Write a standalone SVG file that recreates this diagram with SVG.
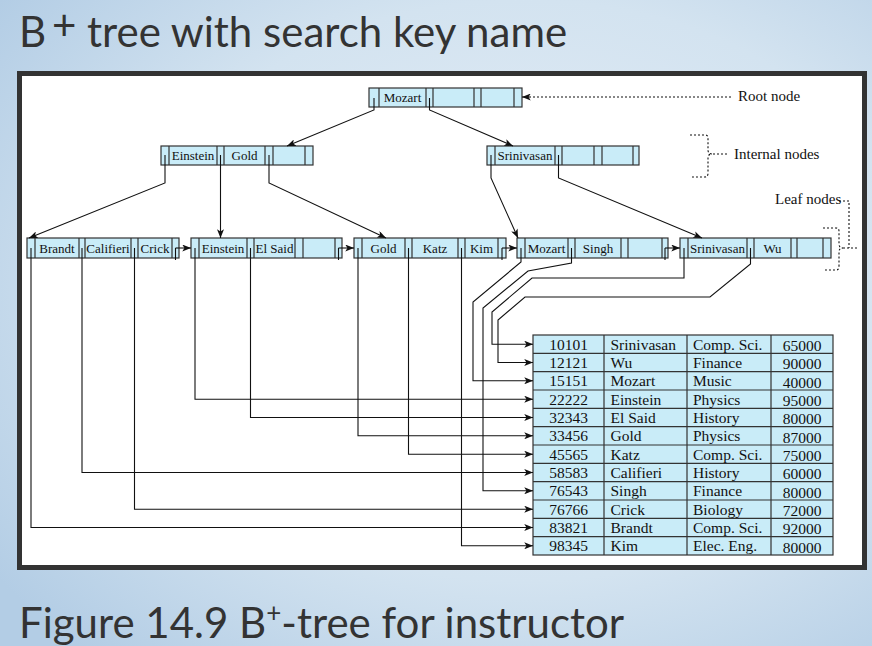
<svg xmlns="http://www.w3.org/2000/svg" width="872" height="646" viewBox="0 0 872 646">
<defs>
<radialGradient id="bg" cx="0.6" cy="0.45" r="0.75">
<stop offset="0" stop-color="#e6eef7"/>
<stop offset="0.6" stop-color="#d3e3f0"/>
<stop offset="1" stop-color="#b3cde5"/>
</radialGradient>
<marker id="ah" viewBox="0 0 10 8" refX="10" refY="4" markerWidth="9" markerHeight="7" markerUnits="userSpaceOnUse" orient="auto">
<path d="M0,0 L10,4 L0,8 L2.5,4 z" fill="#111"/>
</marker>
<style>
.nb{fill:#c9ecf8;stroke:#333;stroke-width:1.2}
.dv{stroke:#333;stroke-width:1.2;fill:none}
.st{stroke:#111;stroke-width:1.1;fill:none}
.nt{font-family:"Liberation Serif",serif;font-size:13px;text-anchor:middle;fill:#111}
.ca{fill:none;stroke:#111;stroke-width:1.1;marker-end:url(#ah)}
.ds{fill:none;stroke:#111;stroke-width:1.1;stroke-dasharray:2 2}
.lb{font-family:"Liberation Serif",serif;font-size:15px;fill:#111}
.tb{fill:#c9ecf8;stroke:#333;stroke-width:1.2}
.tc{font-family:"Liberation Serif",serif;font-size:15.5px;fill:#111}
.tm{text-anchor:middle}
.hd{font-family:Lato,"Liberation Sans",sans-serif;fill:#333}
</style>
</defs>
<rect width="872" height="646" fill="url(#bg)"/>
<text class="hd" x="19" y="47" font-size="42">B</text>
<text class="hd" x="52" y="40" font-size="42">+</text>
<text class="hd" x="87" y="47" font-size="42">tree with search key name</text>
<text class="hd" x="19" y="638" font-size="42">Figure 14.9 B<tspan font-size="26" dy="-16">+</tspan><tspan dy="16">-tree for instructor</tspan></text>
<rect x="19.5" y="73.5" width="845" height="494" fill="#fff" stroke="#333" stroke-width="5"/>

<g id="root">
<rect class="nb" x="369" y="88" width="153" height="19"/>
<path class="dv" d="M379 88V107M426 88V107M433 88V107M474 88V107M481 88V107M514 88V107"/>
<text class="nt" x="402.5" y="102">Mozart</text>
</g>
<g id="int1">
<rect class="nb" x="161" y="146" width="152" height="19"/>
<path class="dv" d="M169 146V165M217 146V165M224 146V165M265 146V165M273 146V165M305 146V165"/>
<text class="nt" x="193" y="160">Einstein</text>
<text class="nt" x="244.5" y="160">Gold</text>
</g>
<g id="int2">
<rect class="nb" x="487" y="146" width="152" height="19"/>
<path class="dv" d="M495 146V165M555 146V165M562 146V165M594 146V165M602 146V165M633 146V165"/>
<text class="nt" x="525" y="160">Srinivasan</text>
</g>
<g id="leaf1">
<rect class="nb" x="27" y="238" width="152" height="20"/>
<path class="dv" d="M35 238V258M79 238V258M85 238V258M131 238V258M138 238V258M172 238V258"/>
<text class="nt" x="57" y="252.5">Brandt</text>
<text class="nt" x="108" y="252.5">Califieri</text>
<text class="nt" x="155" y="252.5">Crick</text>
</g>
<g id="leaf2">
<rect class="nb" x="191" y="238" width="151" height="20"/>
<path class="dv" d="M199 238V258M247 238V258M254 238V258M295 238V258M303 238V258M335 238V258"/>
<text class="nt" x="223" y="252.5">Einstein</text>
<text class="nt" x="274.5" y="252.5">El Said</text>
</g>
<g id="leaf3">
<rect class="nb" x="354" y="238" width="152" height="20"/>
<path class="dv" d="M362 238V258M405 238V258M412 238V258M458 238V258M465 238V258M498 238V258"/>
<text class="nt" x="383.5" y="252.5">Gold</text>
<text class="nt" x="435" y="252.5">Katz</text>
<text class="nt" x="481.5" y="252.5">Kim</text>
</g>
<g id="leaf4">
<rect class="nb" x="517" y="238" width="151" height="20"/>
<path class="dv" d="M525 238V258M568 238V258M575 238V258M621 238V258M628 238V258M662 238V258"/>
<text class="nt" x="546.5" y="252.5">Mozart</text>
<text class="nt" x="598" y="252.5">Singh</text>
</g>
<g id="leaf5">
<rect class="nb" x="680" y="238" width="151" height="20"/>
<path class="dv" d="M688 238V258M747 238V258M754 238V258M791 238V258M797 238V258M823 238V258"/>
<text class="nt" x="717.5" y="252.5">Srinivasan</text>
<text class="nt" x="772.5" y="252.5">Wu</text>
</g>

<g id="table">
<rect class="tb" x="533" y="335" width="300" height="220"/>
<path class="dv" d="M604 335V555M687 335V555M771 335V555M533 353.33H833M533 371.67H833M533 390H833M533 408.33H833M533 426.67H833M533 445H833M533 463.33H833M533 481.67H833M533 500H833M533 518.33H833M533 536.67H833"/>
<g class="tc">
<text class="tm" x="568.5" y="349.5">10101</text><text x="610.5" y="349.5">Srinivasan</text><text x="693" y="349.5">Comp. Sci.</text><text class="tm" x="802" y="351">65000</text>
<text class="tm" x="568.5" y="367.8">12121</text><text x="610.5" y="367.8">Wu</text><text x="693" y="367.8">Finance</text><text class="tm" x="802" y="369.3">90000</text>
<text class="tm" x="568.5" y="386.2">15151</text><text x="610.5" y="386.2">Mozart</text><text x="693" y="386.2">Music</text><text class="tm" x="802" y="387.7">40000</text>
<text class="tm" x="568.5" y="404.5">22222</text><text x="610.5" y="404.5">Einstein</text><text x="693" y="404.5">Physics</text><text class="tm" x="802" y="406">95000</text>
<text class="tm" x="568.5" y="422.8">32343</text><text x="610.5" y="422.8">El Said</text><text x="693" y="422.8">History</text><text class="tm" x="802" y="424.3">80000</text>
<text class="tm" x="568.5" y="441.2">33456</text><text x="610.5" y="441.2">Gold</text><text x="693" y="441.2">Physics</text><text class="tm" x="802" y="442.7">87000</text>
<text class="tm" x="568.5" y="459.5">45565</text><text x="610.5" y="459.5">Katz</text><text x="693" y="459.5">Comp. Sci.</text><text class="tm" x="802" y="461">75000</text>
<text class="tm" x="568.5" y="477.8">58583</text><text x="610.5" y="477.8">Califieri</text><text x="693" y="477.8">History</text><text class="tm" x="802" y="479.3">60000</text>
<text class="tm" x="568.5" y="496.2">76543</text><text x="610.5" y="496.2">Singh</text><text x="693" y="496.2">Finance</text><text class="tm" x="802" y="497.7">80000</text>
<text class="tm" x="568.5" y="514.5">76766</text><text x="610.5" y="514.5">Crick</text><text x="693" y="514.5">Biology</text><text class="tm" x="802" y="516">72000</text>
<text class="tm" x="568.5" y="532.8">83821</text><text x="610.5" y="532.8">Brandt</text><text x="693" y="532.8">Comp. Sci.</text><text class="tm" x="802" y="534.3">92000</text>
<text class="tm" x="568.5" y="551.2">98345</text><text x="610.5" y="551.2">Kim</text><text x="693" y="551.2">Elec. Eng.</text><text class="tm" x="802" y="552.7">80000</text>
</g>
</g>

<g id="labels">
<text class="lb" x="738" y="101">Root node</text>
<text class="lb" x="734" y="159">Internal nodes</text>
<text class="lb" x="775" y="204">Leaf nodes</text>
</g>

<g id="connectors">
<path class="ca" d="M374 98V110L287 146"/>
<path class="ca" d="M429.5 98V110L513 146"/>
<path class="ca" d="M165 155V183L29 238"/>
<path class="ca" d="M220.5 155V238"/>
<path class="ca" d="M269 155V183L386 238"/>
<path class="ca" d="M491 155V178L518 238"/>
<path class="ca" d="M558.5 155V178L702 238"/>
<path class="st" d="M175.5 248V260M338.5 248V260M502 248V260M665 248V260"/>
<path class="ca" d="M175.5 248H191"/>
<path class="ca" d="M338.5 248H354"/>
<path class="ca" d="M502 248H517"/>
<path class="ca" d="M665 248H680"/>
<path class="ca" d="M31 248V527.5H533"/>
<path class="ca" d="M82 248V472.5H533"/>
<path class="ca" d="M134.5 248V509.2H533"/>
<path class="ca" d="M195 248V399.2H533"/>
<path class="ca" d="M250.5 248V417.5H533"/>
<path class="ca" d="M358 248V435.8H533"/>
<path class="ca" d="M408.5 248V454.2H533"/>
<path class="ca" d="M461.5 248V545.8H533"/>
<path class="ca" d="M521 248V262L473 302V380.8H533"/>
<path class="ca" d="M571.5 248V263L528 271L483 308V490.8H533"/>
<path class="ca" d="M684 248V278H532L492 312V344.2H533"/>
<path class="ca" d="M750.5 248V264L710 297H525L498 320V362.5H533"/>
<path class="ds" d="M731 97H531"/>
<path class="ca" d="M531 97H522"/>
<path class="ds" d="M690 135H705Q708 135 708 138V150Q708 154 712 154Q708 154 708 158V173Q708 177 705 177H690M713 154H729"/>
<path class="ds" d="M823 228H836Q839 228 839 231V244Q839 248 843 248Q839 248 839 252V266Q839 270 836 270H823M843 248H858M839 201H849V248"/>
</g>
</svg>
